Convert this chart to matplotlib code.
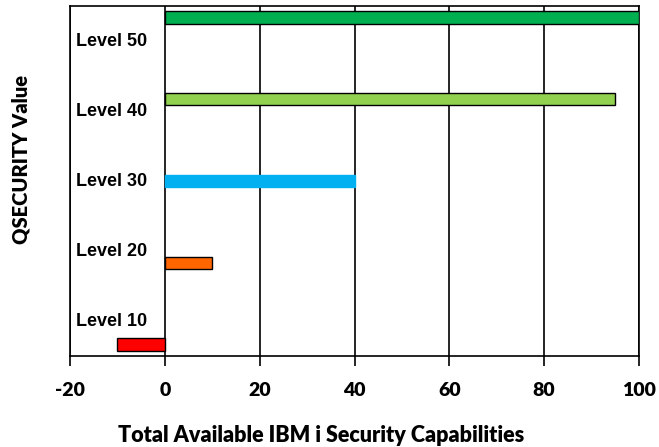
import matplotlib
matplotlib.use("Agg")
import matplotlib.pyplot as plt
from matplotlib.transforms import blended_transform_factory

# QSECURITY levels and how much of the security toolkit each one switches on
levels = ["Level 10", "Level 20", "Level 30", "Level 40", "Level 50"]
capability = [-10, 10, 40, 95, 100]
bar_colors = ["#FF0000", "#FF6600", "#00B0F0", "#92D050", "#00B050"]
edge_colors = ["black", "black", "#00B0F0", "black", "black"]
x_ticks = [-20, 0, 20, 40, 60, 80, 100]

fig = plt.figure(figsize=(6.59, 4.47), dpi=100)
ax = fig.add_axes([70 / 659, (447 - 356) / 447, 569 / 659, 350 / 447])

ypos = list(range(len(levels)))
ax.barh(ypos, capability, height=0.15, color=bar_colors,
        edgecolor=edge_colors, linewidth=1.0, zorder=3)

ax.set_xlim(-20, 100)
ax.set_ylim(-0.14, 4.14)
ax.set_xticks(x_ticks)
ax.set_xticklabels([str(t) for t in x_ticks], fontfamily="Lato",
                   fontweight="heavy", fontsize=14)
ax.set_yticks([])
ax.tick_params(axis="x", direction="out", length=7, width=1.2, pad=12)

ax.xaxis.grid(True, color="black", linewidth=1.2, zorder=1)
for s in ax.spines.values():
    s.set_linewidth(1.2)
    s.set_color("black")

# category names sit inside the plot, evenly spread over the height
trans = blended_transform_factory(ax.transAxes, ax.transAxes)
for i, name in enumerate(levels):
    ax.text(0.011, 0.1 + 0.2 * i, name, transform=trans, ha="left",
            va="center", fontfamily="Liberation Sans", fontweight="bold",
            fontsize=13, zorder=4)

ax.set_xlabel("Total Available IBM i Security Capabilities", fontfamily="Lato",
              fontweight="heavy", fontsize=15.5)
ax.xaxis.set_label_coords(0.441, -0.198)
ax.set_ylabel("QSECURITY Value", fontfamily="Lato", fontweight="heavy",
              fontsize=14.5)
ax.yaxis.set_label_coords(-0.086, 0.563)
ax.yaxis.label.set_va("center")

fig.savefig("out.png", dpi=100)
